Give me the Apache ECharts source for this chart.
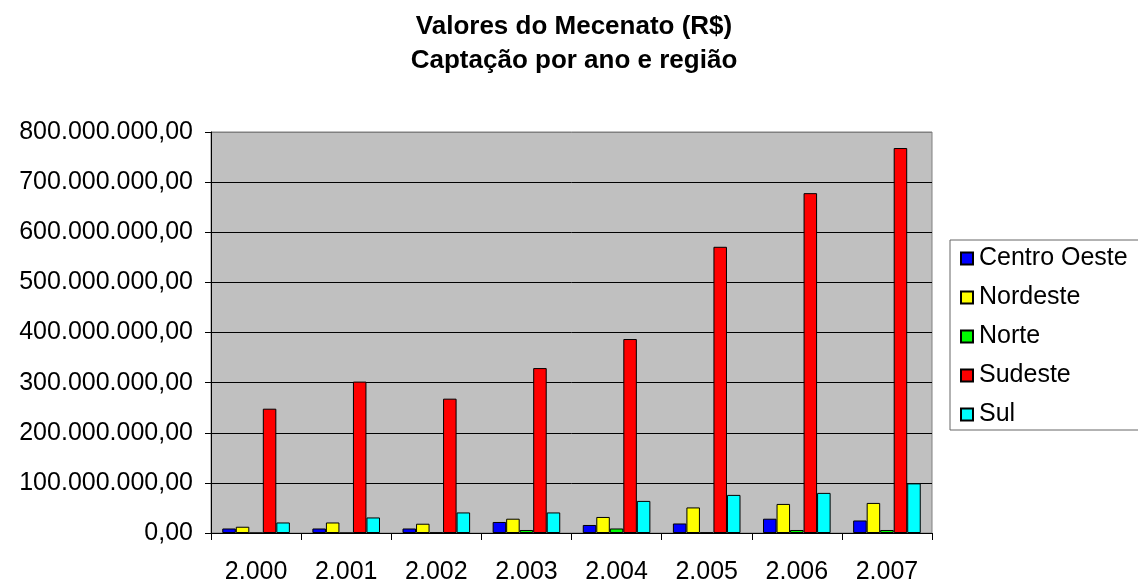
<!DOCTYPE html>
<html>
<head>
<meta charset="utf-8">
<script src="https://cdn.jsdelivr.net/npm/echarts@6/dist/echarts.min.js"></script>
<style>
  html, body { margin: 0; padding: 0; background: #fff; }
  #main { width: 1138px; height: 585px; }
</style>
</head>
<body>
<div id="main"></div>
<script>
// anos (categorias)
var anos = ['2.000', '2.001', '2.002', '2.003', '2.004', '2.005', '2.006', '2.007']
// valores captados por região (R$)
var centroOeste = [9000000, 9000000, 9000000, 22000000, 16000000, 19000000, 28500000, 25000000]
var nordeste = [12500000, 21000000, 18500000, 28500000, 32000000, 51000000, 58000000, 60000000]
var norte = [0, 0, 1000000, 6000000, 9000000, 1000000, 6000000, 6000000]
var sudeste = [248000000, 302000000, 268000000, 329000000, 387000000, 571000000, 678000000, 768000000]
var sul = [21000000, 31000000, 41000000, 41000000, 64000000, 76000000, 80000000, 99000000]

var regioes = ['Centro Oeste', 'Nordeste', 'Norte', 'Sudeste', 'Sul']
var cores = ['#0000FF', '#FFFF00', '#00FF00', '#FF0000', '#00FFFF']
var valores = [centroOeste, nordeste, norte, sudeste, sul]

// formato brasileiro: 800.000.000,00
function formatar(v) {
  return String(Math.round(v)).replace(/\B(?=(\d{3})+(?!\d))/g, '.') + ',00'
}

var fonte = '"Liberation Sans", Arial, sans-serif'

var series = regioes.map(function (nome, i) {
  return {
    name: nome,
    type: 'bar',
    data: valores[i],
    barGap: '0%',
    barCategoryGap: '25%',
    itemStyle: {
      color: cores[i],
      borderColor: '#000',
      borderWidth: 1
    }
  }
})

// linhas de grade pretas, a do topo cinza (borda da área)
var coresGrade = ['#000', '#000', '#000', '#000', '#000', '#000', '#000', '#000', '#808080']

var chart = echarts.init(document.getElementById('main'))
chart.setOption({
  animation: false,
  backgroundColor: '#fff',
  textStyle: { fontFamily: fonte },
  title: {
    text: 'Valores do Mecenato (R$)\nCaptação por ano e região',
    left: 569,
    top: 5,
    textAlign: 'center',
    textStyle: {
      fontFamily: fonte,
      fontSize: 26,
      fontWeight: 'bold',
      color: '#000',
      lineHeight: 34
    }
  },
  legend: {
    orient: 'vertical',
    left: 950,
    top: 240,
    icon: 'rect',
    itemWidth: 12,
    itemHeight: 12,
    itemGap: 14,
    padding: [6, 80, 3, 10],
    backgroundColor: '#fff',
    borderColor: '#666',
    borderWidth: 1,
    textStyle: { fontFamily: fonte, fontSize: 25, color: '#000', padding: [0, 0, 0, 1] },
    data: regioes
  },
  grid: {
    left: 211,
    right: 206,
    top: 132,
    bottom: 51,
    show: true,
    backgroundColor: '#C0C0C0',
    borderColor: '#808080',
    borderWidth: 1
  },
  xAxis: {
    type: 'category',
    data: anos,
    axisLine: { lineStyle: { color: '#000', width: 1 } },
    axisTick: { show: true, length: 7, lineStyle: { color: '#000' } },
    axisLabel: { fontFamily: fonte, fontSize: 25, color: '#000', margin: 27 }
  },
  yAxis: {
    type: 'value',
    min: 0,
    max: 800000000,
    interval: 100000000,
    axisLine: { show: true, lineStyle: { color: '#000', width: 1 } },
    axisTick: { show: true, length: 6, lineStyle: { color: '#000' } },
    axisLabel: { fontFamily: fonte, fontSize: 25, color: '#000', margin: 18, formatter: formatar },
    splitLine: { show: true, lineStyle: { color: coresGrade, width: 1 } }
  },
  series: series
})
</script>
</body>
</html>
